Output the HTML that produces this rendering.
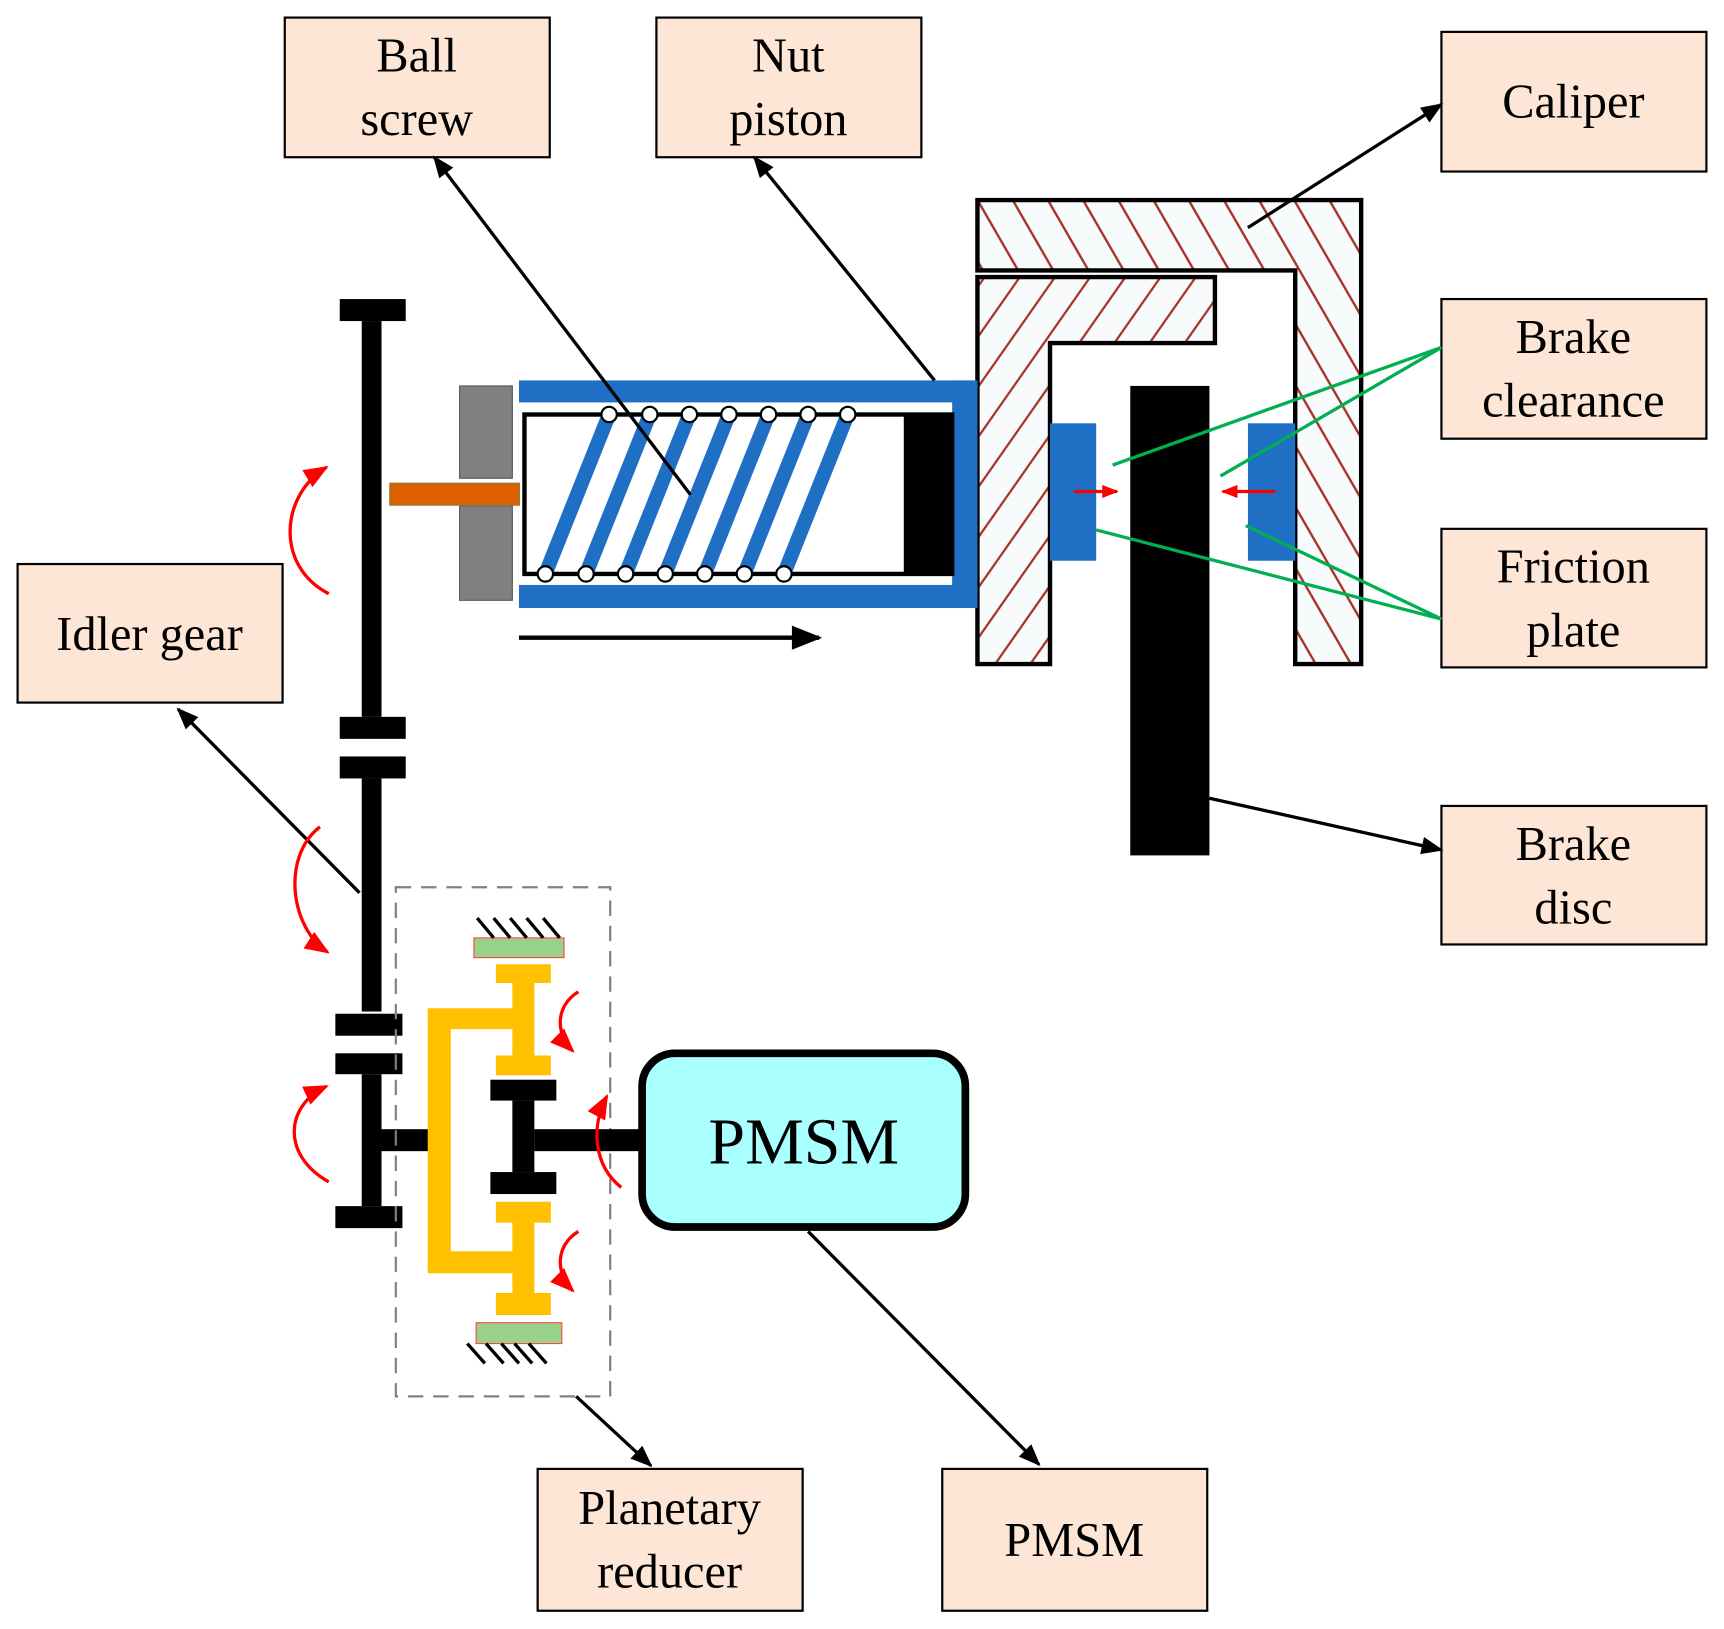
<!DOCTYPE html>
<html><head><meta charset="utf-8"><style>
html,body{margin:0;padding:0;background:#fff}
svg{display:block}
text{font-family:"Liberation Serif",serif;font-size:44px;fill:#000;text-anchor:middle}
</style></head><body>
<svg width="1724" height="1629" viewBox="0 0 1568 1481.6" xmlns="http://www.w3.org/2000/svg">
<defs>
<marker id="ah" viewBox="0 0 10 8" refX="9" refY="4" markerWidth="26" markerHeight="16" orient="auto" markerUnits="userSpaceOnUse"><path d="M0,0 L10,4 L0,8z" fill="#000"/></marker>
<marker id="ab" viewBox="0 0 10 8" refX="9" refY="4" markerWidth="36" markerHeight="22" orient="auto" markerUnits="userSpaceOnUse"><path d="M0,0 L10,4 L0,8z" fill="#000"/></marker>
<marker id="ar" viewBox="0 0 10 8" refX="9" refY="4" markerWidth="24" markerHeight="18" orient="auto" markerUnits="userSpaceOnUse"><path d="M0,0 L10,4 L0,8z" fill="red"/></marker>
<marker id="ar2" viewBox="0 0 10 8" refX="9" refY="4" markerWidth="16" markerHeight="12" orient="auto" markerUnits="userSpaceOnUse"><path d="M0,0 L10,4 L0,8z" fill="red"/></marker>
<pattern id="h1" width="32" height="400" patternUnits="userSpaceOnUse" patternTransform="skewX(30)"><rect width="32" height="400" fill="#f7fbfb"/><line x1="16" y1="0" x2="16" y2="400" stroke="#a83228" stroke-width="2.5"/></pattern>
<pattern id="h2" width="32" height="400" patternUnits="userSpaceOnUse" patternTransform="skewX(-35)"><rect width="32" height="400" fill="#f7fbfb"/><line x1="16" y1="0" x2="16" y2="400" stroke="#a83228" stroke-width="2.5"/></pattern>
</defs>
<g fill="#fde6d6" stroke="#000" stroke-width="2">
<rect x="259" y="16" width="241" height="127"/>
<rect x="597" y="16" width="241" height="127"/>
<rect x="1311" y="29" width="241" height="127"/>
<rect x="1311" y="272" width="241" height="127"/>
<rect x="1311" y="481" width="241" height="126"/>
<rect x="1311" y="733" width="241" height="126"/>
<rect x="16" y="513" width="241" height="126"/>
<rect x="489" y="1336" width="241" height="129"/>
<rect x="857" y="1336" width="241" height="129"/>
</g>
<text x="379" y="65">Ball</text><text x="379" y="123">screw</text>
<text x="717" y="65">Nut</text><text x="717" y="123">piston</text>
<text x="1431" y="107">Caliper</text>
<text x="1431" y="321">Brake</text><text x="1431" y="379">clearance</text>
<text x="1431" y="530">Friction</text><text x="1431" y="588">plate</text>
<text x="1431" y="782">Brake</text><text x="1431" y="840">disc</text>
<text x="136" y="591">Idler gear</text>
<text x="609" y="1386">Planetary</text><text x="609" y="1444">reducer</text>
<text x="977" y="1415">PMSM</text>

<path d="M889,182 H1238 V604 H1178 V246 H889 Z" fill="url(#h1)" stroke="#000" stroke-width="4"/>
<path d="M889,252 H1105 V312 H955 V604 H889 Z" fill="url(#h2)" stroke="#000" stroke-width="4"/>
<rect x="1028" y="351" width="72" height="427" fill="#000"/>
<rect x="955" y="385" width="42" height="125" fill="#1f6fc5"/>
<rect x="1135" y="385" width="43" height="125" fill="#1f6fc5"/>
<line x1="977" y1="447" x2="1016" y2="447" stroke="red" stroke-width="3" marker-end="url(#ar2)"/>
<line x1="1160" y1="447" x2="1112" y2="447" stroke="red" stroke-width="3" marker-end="url(#ar2)"/>
<g stroke="#00b050" stroke-width="3">
<line x1="1311" y1="316" x2="1012" y2="423"/><line x1="1311" y1="316" x2="1110" y2="433"/>
<line x1="1311" y1="563" x2="997" y2="482"/><line x1="1311" y1="563" x2="1133" y2="478"/>
</g>
<g stroke="#000" stroke-width="3" fill="none">
<line x1="1135" y1="207" x2="1311" y2="95" marker-end="url(#ah)"/>
<line x1="1100" y1="726" x2="1311" y2="773" marker-end="url(#ah)"/>
</g>

<rect x="472" y="346" width="417" height="20" fill="#1f6fc5"/>
<rect x="472" y="532" width="417" height="21" fill="#1f6fc5"/>
<rect x="866" y="346" width="23" height="207" fill="#1f6fc5"/>
<rect x="477" y="377" width="389" height="145" fill="none" stroke="#000" stroke-width="4"/>
<rect x="822" y="377" width="44" height="145" fill="#000"/>
<g stroke="#1f6fc5" stroke-width="13">
<line x1="496" y1="522" x2="554" y2="377"/><line x1="533" y1="522" x2="591" y2="377"/>
<line x1="569" y1="522" x2="627" y2="377"/><line x1="605" y1="522" x2="663" y2="377"/>
<line x1="641" y1="522" x2="699" y2="377"/><line x1="677" y1="522" x2="735" y2="377"/>
<line x1="713" y1="522" x2="771" y2="377"/>
</g>
<g fill="#fff" stroke="#000" stroke-width="2">
<circle cx="554" cy="377" r="7"/><circle cx="591" cy="377" r="7"/><circle cx="627" cy="377" r="7"/><circle cx="663" cy="377" r="7"/><circle cx="699" cy="377" r="7"/><circle cx="735" cy="377" r="7"/><circle cx="771" cy="377" r="7"/>
<circle cx="496" cy="522" r="7"/><circle cx="533" cy="522" r="7"/><circle cx="569" cy="522" r="7"/><circle cx="605" cy="522" r="7"/><circle cx="641" cy="522" r="7"/><circle cx="677" cy="522" r="7"/><circle cx="713" cy="522" r="7"/>
</g>
<rect x="418" y="351" width="48" height="84" fill="#808080" stroke="#555" stroke-width="1"/>
<rect x="418" y="460" width="48" height="86" fill="#808080" stroke="#555" stroke-width="1"/>
<rect x="355" y="440" width="117" height="19" fill="#e06000" stroke="#b07020" stroke-width="2"/>
<line x1="472" y1="580" x2="745" y2="580" stroke="#000" stroke-width="4" marker-end="url(#ab)"/>
<g stroke="#000" stroke-width="3" fill="none">
<line x1="628" y1="450" x2="395" y2="143" marker-end="url(#ah)"/>
<line x1="850" y1="346" x2="686" y2="143" marker-end="url(#ah)"/>
<line x1="327" y1="812" x2="162" y2="645" marker-end="url(#ah)"/>
<line x1="524" y1="1270" x2="592" y2="1333" marker-end="url(#ah)"/>
<line x1="735" y1="1120" x2="945" y2="1332" marker-end="url(#ah)"/>
</g>

<g fill="#000">
<rect x="309" y="272" width="60" height="20"/><rect x="329" y="292" width="18" height="360"/><rect x="309" y="652" width="60" height="20"/>
<rect x="309" y="688" width="60" height="20"/><rect x="329" y="708" width="18" height="212"/><rect x="305" y="922" width="61" height="20"/>
<rect x="305" y="958" width="61" height="19"/><rect x="329" y="977" width="18" height="120"/><rect x="305" y="1097" width="61" height="20"/>
<rect x="347" y="1027" width="43" height="20"/>
</g>
<rect x="360" y="807" width="195" height="463" fill="none" stroke="#808080" stroke-width="2" stroke-dasharray="14,9"/>
<g fill="#ffc000">
<path d="M389,917 H470 V936 H410 V1138 H470 V1158 H389 Z"/>
<rect x="451" y="877" width="50" height="17"/><rect x="466" y="894" width="20" height="68"/><rect x="451" y="960" width="50" height="18"/>
<rect x="451" y="1093" width="50" height="19"/><rect x="466" y="1112" width="20" height="68"/><rect x="451" y="1176" width="50" height="20"/>
</g>
<rect x="431" y="853" width="82" height="18" fill="#98d28a" stroke="#f44" stroke-width="1"/>
<rect x="433" y="1203" width="78" height="19" fill="#98d28a" stroke="#f44" stroke-width="1"/>
<g stroke="#000" stroke-width="3">
<line x1="434" y1="835" x2="449" y2="853"/><line x1="449" y1="835" x2="464" y2="853"/><line x1="464" y1="835" x2="479" y2="853"/><line x1="479" y1="835" x2="494" y2="853"/><line x1="494" y1="835" x2="509" y2="853"/>
<line x1="425" y1="1222" x2="441" y2="1240"/><line x1="442" y1="1222" x2="458" y2="1240"/><line x1="456" y1="1222" x2="472" y2="1240"/><line x1="468" y1="1222" x2="484" y2="1240"/><line x1="481" y1="1222" x2="497" y2="1240"/>
</g>
<g fill="#000">
<rect x="446" y="982" width="60" height="19"/><rect x="466" y="1001" width="20" height="65"/><rect x="446" y="1066" width="60" height="20"/>
<rect x="486" y="1027" width="97" height="20"/>
</g>
<rect x="584" y="958" width="294" height="158" rx="30" fill="#aaffff" stroke="#000" stroke-width="7"/>
<text x="731" y="1058" style="font-size:60px">PMSM</text>

<g stroke="red" stroke-width="3" fill="none">
<path d="M299,540 C250,515 255,450 297,425" marker-end="url(#ar)"/>
<path d="M291,752 C255,780 265,845 298,866" marker-end="url(#ar)"/>
<path d="M299,1075 C255,1050 260,1005 297,988" marker-end="url(#ar)"/>
<path d="M565,1080 C540,1060 537,1025 552,997" marker-end="url(#ar)"/>
<path d="M526,902 C505,915 505,940 521,956" marker-end="url(#ar)"/>
<path d="M526,1120 C505,1133 505,1158 521,1174" marker-end="url(#ar)"/>
</g>
</svg>
</body></html>
